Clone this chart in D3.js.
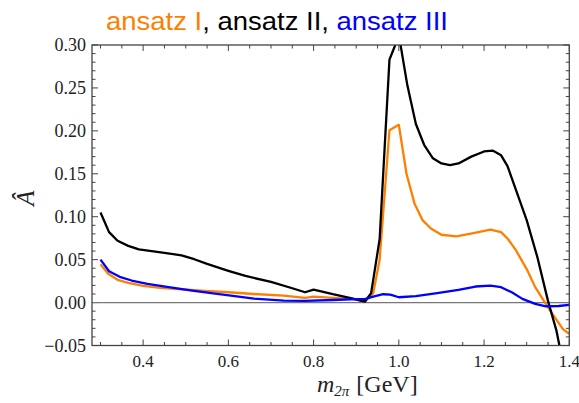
<!DOCTYPE html>
<html>
<head>
<meta charset="utf-8">
<script src="https://cdn.jsdelivr.net/npm/d3@7"></script>
<style>
  body { margin: 0; background: #fff; }
</style>
</head>
<body>
<div id="chart"></div>
<script>
// ansatz I (orange)
var mI = [0.30, 0.318, 0.34, 0.365, 0.40, 0.44, 0.49, 0.545, 0.60, 0.66, 0.73, 0.78, 0.80, 0.845, 0.89, 0.92, 0.94, 0.955, 0.978, 1.00, 1.018, 1.037, 1.056, 1.076, 1.10, 1.135, 1.175, 1.215, 1.24, 1.256, 1.275, 1.30, 1.32, 1.35, 1.385, 1.40]
var aI = [0.0445, 0.0335, 0.0265, 0.023, 0.0195, 0.017, 0.0155, 0.0137, 0.012, 0.010, 0.0082, 0.0055, 0.007, 0.0055, 0.0043, 0.001, 0.011, 0.05, 0.2007, 0.207, 0.150, 0.115, 0.0957, 0.086, 0.079, 0.077, 0.081, 0.085, 0.082, 0.074, 0.0607, 0.039, 0.018, -0.0055, -0.031, -0.0365]

// ansatz II (black)
var mII = [0.30, 0.32, 0.34, 0.365, 0.39, 0.42, 0.45, 0.49, 0.52, 0.55, 0.60, 0.64, 0.70, 0.75, 0.78, 0.80, 0.845, 0.89, 0.92, 0.935, 0.955, 0.978, 0.99, 1.00, 1.02, 1.04, 1.06, 1.08, 1.10, 1.12, 1.14, 1.17, 1.20, 1.22, 1.24, 1.255, 1.275, 1.30, 1.325, 1.35, 1.37, 1.38]
var aII = [0.105, 0.082, 0.072, 0.066, 0.062, 0.060, 0.058, 0.055, 0.0505, 0.045, 0.037, 0.031, 0.024, 0.0167, 0.012, 0.015, 0.0097, 0.005, 0.001, 0.011, 0.074, 0.283, 0.298, 0.312, 0.253, 0.208, 0.183, 0.168, 0.162, 0.160, 0.162, 0.170, 0.176, 0.177, 0.1715, 0.159, 0.131, 0.096, 0.053, 0.002, -0.033, -0.058]

// ansatz III (blue)
var mIII = [0.30, 0.32, 0.345, 0.373, 0.41, 0.46, 0.515, 0.56, 0.615, 0.66, 0.73, 0.78, 0.845, 0.90, 0.92, 0.94, 0.963, 0.98, 1.00, 1.04, 1.09, 1.14, 1.18, 1.215, 1.24, 1.265, 1.29, 1.32, 1.345, 1.375, 1.40]
var aIII = [0.050, 0.0365, 0.030, 0.0257, 0.0218, 0.0179, 0.014, 0.0109, 0.0074, 0.0045, 0.0023, 0.002, 0.003, 0.0039, 0.004, 0.007, 0.0097, 0.0093, 0.0062, 0.0074, 0.011, 0.0148, 0.0187, 0.0198, 0.0179, 0.012, 0.0043, -0.0015, -0.0043, -0.004, -0.0027]

var xMajor = [0.4, 0.6, 0.8, 1.0, 1.2, 1.4]
var yMajor = [-0.05, 0.00, 0.05, 0.10, 0.15, 0.20, 0.25, 0.30]

var series = [
  { name: 'ansatz I', m: mI, a: aI, color: '#ff7f00' },
  { name: 'ansatz II', m: mII, a: aII, color: '#000000' },
  { name: 'ansatz III', m: mIII, a: aIII, color: '#0000ff' }
]

var width = 579
var height = 403
// plot box (note: "top" is reserved on window, so use prefixed names)
var pLeft = 92, pRight = 569.3, pTop = 45, pBottom = 345.5
var serif = "'Liberation Serif', 'Times New Roman', serif"

var svg = d3
  .select('#chart')
  .append('svg')
  .attr('width', width)
  .attr('height', height)

var x = d3.scaleLinear().domain([0.28, 1.4]).range([pLeft, pRight])
var y = d3.scaleLinear().domain([-0.05, 0.30]).range([pBottom, pTop])

var frameColor = '#444'

// minor ticks
var xMinor = d3.range(0.30, 1.4001, 0.05)
var yMinor = d3.range(-0.05, 0.3001, 0.01)
var isMajor = (v, list) => list.some(t => Math.abs(t - v) < 1e-6)

var ticks = svg.append('g').attr('stroke', frameColor).attr('stroke-width', 1)
xMinor.forEach(v => {
  var len = isMajor(v, xMajor) ? 6 : 3.5
  ticks.append('line').attr('x1', x(v)).attr('x2', x(v)).attr('y1', pBottom).attr('y2', pBottom - len)
  ticks.append('line').attr('x1', x(v)).attr('x2', x(v)).attr('y1', pTop).attr('y2', pTop + len)
})
yMinor.forEach(v => {
  var len = isMajor(v, yMajor) ? 6 : 3.5
  ticks.append('line').attr('y1', y(v)).attr('y2', y(v)).attr('x1', pLeft).attr('x2', pLeft + len)
  ticks.append('line').attr('y1', y(v)).attr('y2', y(v)).attr('x1', pRight).attr('x2', pRight - len)
})

// zero line
svg
  .append('line')
  .attr('x1', pLeft)
  .attr('x2', pRight)
  .attr('y1', y(0))
  .attr('y2', y(0))
  .attr('stroke', '#777')
  .attr('stroke-width', 1.2)

// curves
svg
  .append('clipPath')
  .attr('id', 'plot-clip')
  .append('rect')
  .attr('x', pLeft)
  .attr('y', pTop)
  .attr('width', pRight - pLeft)
  .attr('height', pBottom - pTop)

var line = d3.line().x(d => x(d[0])).y(d => y(d[1]))

svg
  .append('g')
  .attr('clip-path', 'url(#plot-clip)')
  .selectAll('path')
  .data(series)
  .enter()
  .append('path')
  .attr('d', s => line(s.m.map((v, i) => [v, s.a[i]])))
  .attr('fill', 'none')
  .attr('stroke', s => s.color)
  .attr('stroke-width', 2.3)
  .attr('stroke-linejoin', 'round')

// frame
svg
  .append('rect')
  .attr('x', pLeft)
  .attr('y', pTop)
  .attr('width', pRight - pLeft)
  .attr('height', pBottom - pTop)
  .attr('fill', 'none')
  .attr('stroke', frameColor)
  .attr('stroke-width', 1.3)

// tick labels
var fmtY = v => (v < -1e-9 ? '\u2212' : '') + Math.abs(v).toFixed(2)
svg
  .selectAll('.ylab')
  .data(yMajor)
  .enter()
  .append('text')
  .attr('x', pLeft - 6)
  .attr('y', d => y(d) + 6)
  .attr('text-anchor', 'end')
  .attr('font-family', serif)
  .attr('font-size', 18)
  .attr('fill', '#222')
  .text(fmtY)

svg
  .selectAll('.xlab')
  .data(xMajor)
  .enter()
  .append('text')
  .attr('x', d => x(d))
  .attr('y', 367)
  .attr('text-anchor', 'middle')
  .attr('font-family', serif)
  .attr('font-size', 17)
  .attr('fill', '#222')
  .text(d => d.toFixed(1))

// axis titles
var xt = svg
  .append('text')
  .attr('x', 317)
  .attr('y', 392)
  .attr('font-family', serif)
  .attr('font-size', 24)
  .attr('fill', '#222')
xt.append('tspan').attr('font-style', 'italic').text('m')
xt.append('tspan').attr('font-size', 15).attr('dy', 4).attr('font-style', 'italic').text('2π')
xt.append('tspan').attr('dy', -4).attr('dx', 7).text('[GeV]')

svg
  .append('text')
  .attr('transform', 'translate(34,198) rotate(-90)')
  .attr('text-anchor', 'middle')
  .attr('font-family', serif)
  .attr('font-style', 'italic')
  .attr('font-size', 25)
  .attr('fill', '#222')
  .text('Â')

// title
var title = svg
  .append('text')
  .attr('x', 106)
  .attr('y', 30)
  .attr('font-family', "'Liberation Sans', sans-serif")
  .attr('font-size', 26)
  .attr('textLength', 342)
  .attr('lengthAdjust', 'spacingAndGlyphs')
title.append('tspan').attr('fill', series[0].color).text('ansatz I')
title.append('tspan').attr('fill', '#000').text(', ')
title.append('tspan').attr('fill', series[1].color).text('ansatz II')
title.append('tspan').attr('fill', '#000').text(', ')
title.append('tspan').attr('fill', series[2].color).text('ansatz III')
</script>
</body>
</html>
